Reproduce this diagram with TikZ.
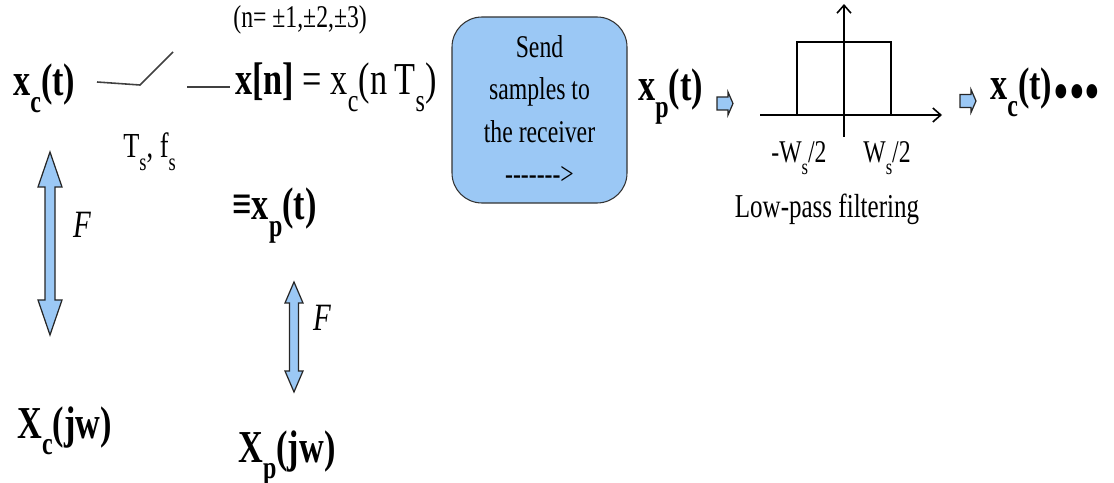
\documentclass[tikz,border=0pt]{standalone}
\usepackage{fontspec}
\setmainfont{Liberation Serif}[FakeStretch=0.75]
\usetikzlibrary{arrows.meta}
\definecolor{sampleblue}{RGB}{155,200,245}
\newcommand{\lowsub}[1]{\raisebox{-0.8ex}{\scalebox{0.7}{#1}}}

\begin{document}
\begin{tikzpicture}[x=0.2mm, y=-0.2mm,
  bigsig/.style={font=\fontsize{26}{30}\selectfont, inner sep=0pt, anchor=base west},
  smalltxt/.style={font=\fontsize{18}{24}\selectfont, inner sep=0pt, anchor=base west},
  ftlabel/.style={font=\fontsize{22}{26}\selectfont\itshape, inner sep=0pt},
  sendbox/.style={draw=black!80, line width=0.6pt, fill=sampleblue, rounded corners=6mm,
                  minimum width=35mm, minimum height=37.2mm, align=center,
                  font=\fontsize{18}{24}\selectfont},
  blockfill/.style={draw=black!85, line width=0.7pt, fill=sampleblue},
  wire/.style={draw=black!75, line width=0.9pt},
  axis/.style={draw=black, line width=0.9pt, -{Straight Barb[length=1.6mm, width=2.8mm]}},
]
  \useasboundingbox (0,0) rectangle (1114,483);

  % Sampling switch
  \node[bigsig] (xct) at (13,96) {\textbf{x\lowsub{c}(t)}};
  \coordinate (swa) at (97,82);
  \coordinate (swb) at (140,85);
  \coordinate (swc) at (173,52);
  \coordinate (swd) at (187,87);
  \coordinate (swe) at (230,87);
  \draw[wire] (swa) -- (swb) -- (swc);
  \draw[wire] (swd) -- (swe);
  \node[smalltxt, font=\fontsize{20}{24}\selectfont] (tsfs) at (123,158) {T\lowsub{s}, f\lowsub{s}};

  % Samples
  \node[smalltxt] (nrange) at (233,28) {(n= ±1,±2,±3)};
  \node[bigsig] (xn) at (235,95) {\textbf{x[n]} = x\lowsub{c}(n\,T\lowsub{s})};
  \node[bigsig] (xpeq) at (232,220) {\textbf{≡x\lowsub{p}(t)}};

  % Transmission
  \node[sendbox] (send) at (539.5,110) {Send\\samples to\\the receiver\\-{}-{}-{}-{}-{}-{}-{}>};
  \node[bigsig] (xpt) at (638,101) {\textbf{x\lowsub{p}(t)}};

  % Small block arrows
  \foreach \bx/\by in {717/103.5, 960/101}
    \draw[blockfill] (\bx,\by-6.5) -- (\bx+11,\by-6.5) -- (\bx+11,\by-11.5) -- (\bx+16,\by)
      -- (\bx+11,\by+11.5) -- (\bx+11,\by+6.5) -- (\bx,\by+6.5) -- cycle;

  % Low-pass filter
  \coordinate (hxa) at (760,115);
  \coordinate (hxb) at (942,115);
  \coordinate (vya) at (844,137);
  \coordinate (vyb) at (844,4);
  \draw[axis] (hxa) -- (hxb);
  \draw[axis] (vya) -- (vyb);
  \draw[line width=0.9pt] (797,115) -- (797,42) -- (891,42) -- (891,115);
  \node[smalltxt] (wneg) at (771,163) {-W\lowsub{s}/2};
  \node[smalltxt] (wpos) at (863,163) {W\lowsub{s}/2};
  \node[smalltxt, anchor=base, font=\fontsize{19}{24}\selectfont] (lpf) at (827,218) {Low-pass filtering};

  % Output
  \node[bigsig] (xcout) at (990,100) {\textbf{x\lowsub{c}(t)}};
  \node[bigsig, font=\fontsize{34}{34}\selectfont] (dots) at (1053,100) {\raisebox{-0.2em}{•••}};

  % Fourier pairs
  \foreach \cx/\ya/\yb/\hw/\sw/\hl in {50/152/335/12/5/35, 294/282/392/9/4.5/21}
    \draw[blockfill] (\cx,\ya) -- (\cx+\hw,\ya+\hl) -- (\cx+\sw,\ya+\hl) -- (\cx+\sw,\yb-\hl)
      -- (\cx+\hw,\yb-\hl) -- (\cx,\yb) -- (\cx-\hw,\yb-\hl) -- (\cx-\sw,\yb-\hl)
      -- (\cx-\sw,\ya+\hl) -- (\cx-\hw,\ya+\hl) -- cycle;
  \node[ftlabel] (fa) at (82,225) {F};
  \node[ftlabel] (fb) at (322,318) {F};
  \node[bigsig] (xcjw) at (17,438) {\textbf{X\lowsub{c}(jw)}};
  \node[bigsig] (xpjw) at (238,462) {\textbf{X\lowsub{p}(jw)}};
\end{tikzpicture}
\end{document}
